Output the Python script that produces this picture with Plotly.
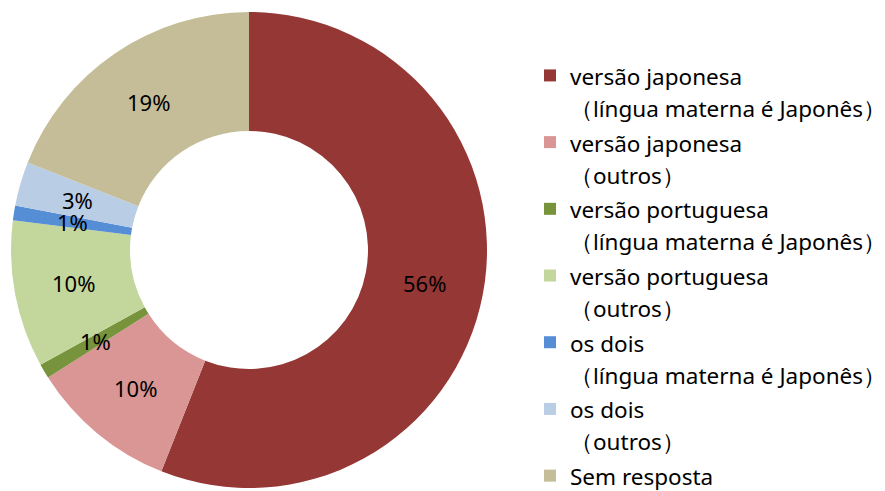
import numpy as np
import plotly.graph_objects as go

W, H = 885, 491

labels = [
    "versão japonesa<br>（língua materna é Japonês）",
    "versão japonesa<br>（outros）",
    "versão portuguesa<br>（língua materna é Japonês）",
    "versão portuguesa<br>（outros）",
    "os dois<br>（língua materna é Japonês）",
    "os dois<br>（outros）",
    "Sem resposta",
]
values = [56, 10, 1, 10, 1, 3, 19]
colors = ["#953735", "#D99694", "#77933C", "#C3D69B", "#558ED5", "#B9CDE5", "#C4BD97"]

FONT = "Noto Sans"

# pie geometry in figure pixels (page body adds an 8px offset)
cx_px, cy_px, r_px = 241, 242, 238
hole = 0.5

fig = go.Figure()
fig.add_trace(go.Pie(
    labels=[f'<span style="font-size:22.5px">{l}</span>' for l in labels],
    values=values,
    marker=dict(colors=colors, line=dict(width=0)),
    hole=hole,
    sort=False,
    direction="clockwise",
    rotation=0,
    textinfo="none",
    hoverinfo="label+percent",
    domain=dict(x=[(cx_px - r_px) / W, (cx_px + r_px) / W],
                y=[(H - cy_px - r_px) / H, (H - cy_px + r_px) / H]),
))

# percentage labels at the middle of the ring
total = sum(values)
cum = np.cumsum([0] + values)
r_mid = r_px * (1 + hole) / 2
for i, v in enumerate(values):
    theta = 2 * np.pi * (cum[i] + v / 2) / total
    x = (cx_px + r_mid * np.sin(theta)) / W
    y = (H - cy_px + r_mid * np.cos(theta)) / H
    fig.add_annotation(x=x, y=y, xref="paper", yref="paper", text=f"{v}%",
                       xanchor="center", yanchor="middle", showarrow=False,
                       font=dict(size=22, color="#000000", family=FONT))

fig.update_layout(
    width=W, height=H,
    margin=dict(l=0, r=0, t=0, b=0),
    paper_bgcolor="white",
    plot_bgcolor="white",
    font=dict(family=FONT, color="#000000"),
    showlegend=True,
    legend=dict(
        x=522 / W, y=1 - 50 / H, xanchor="left", yanchor="top",
        font=dict(size=24.5, family=FONT, color="#000000"),
        valign="top",
        traceorder="normal",
        bgcolor="rgba(0,0,0,0)",
    ),
)

fig.write_html("out.html")
